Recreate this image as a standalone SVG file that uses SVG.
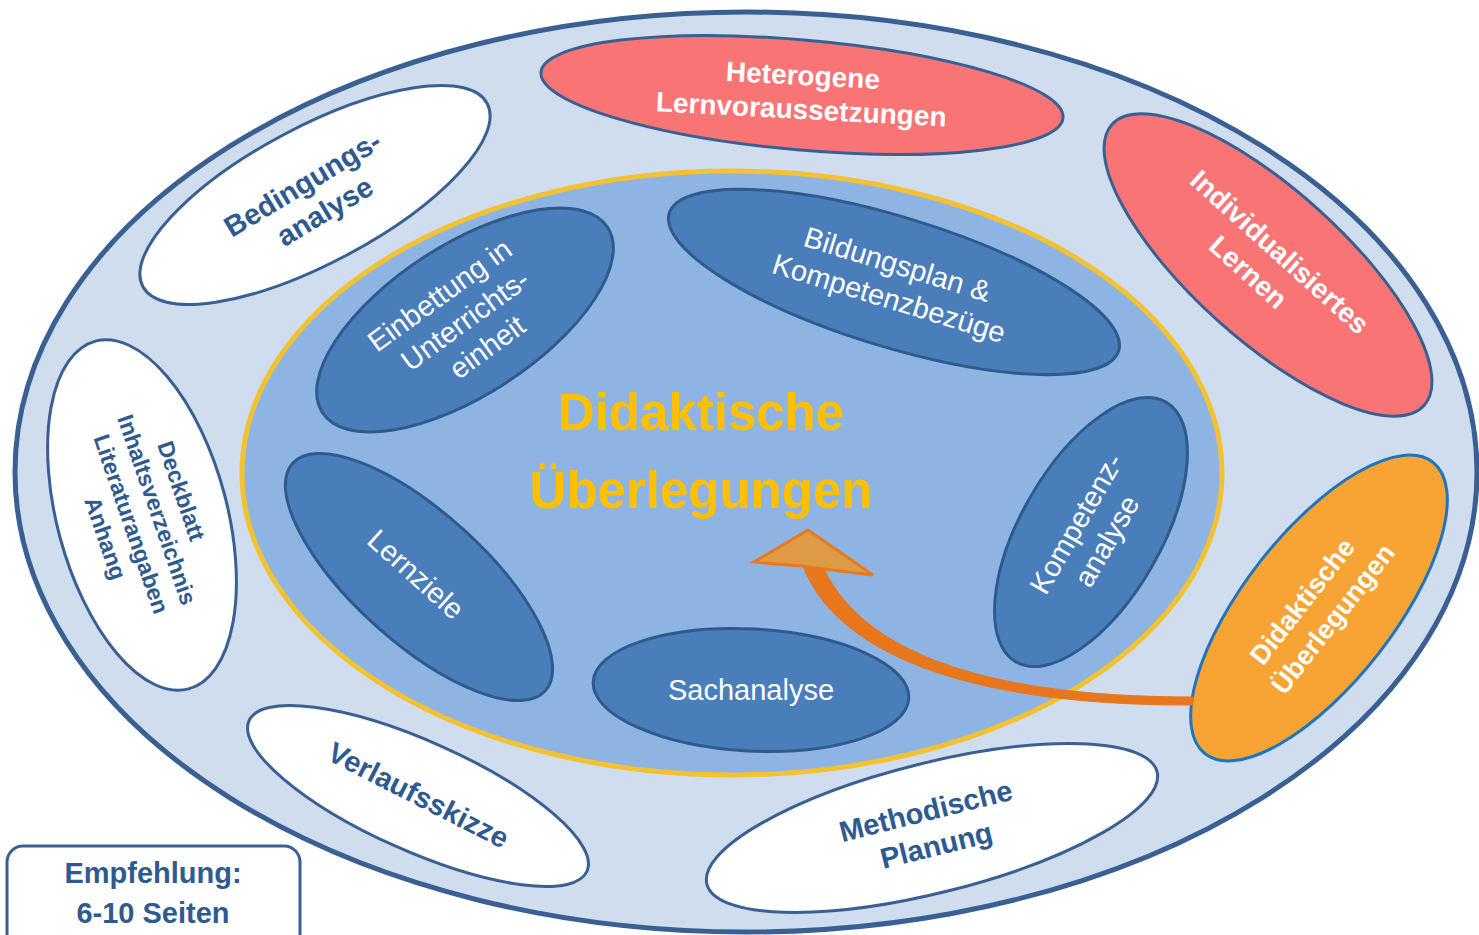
<svg xmlns="http://www.w3.org/2000/svg" width="1479" height="935" viewBox="0 0 1479 935">
<style>
.t{font-family:"Liberation Sans",Arial,sans-serif;text-anchor:middle}
.w{fill:#ffffff}
.b{font-weight:bold}
.d{fill:#2F5A8F}
.blue{fill:#4A7EBB;stroke:#2E5A8C;stroke-width:3}
.white{fill:#ffffff;stroke:#3A6093;stroke-width:3}
.red{fill:#F97575;stroke:#3A6093;stroke-width:3}
</style>
<rect width="1479" height="935" fill="#ffffff"/>
<g id="outer">
<ellipse cx="746" cy="472" rx="731" ry="460" fill="#D0DDEE" stroke="#3A6093" stroke-width="5"/>
</g>
<g id="inner">
<ellipse cx="732" cy="473" rx="490" ry="302" fill="#8DB4E2" stroke="#F2C232" stroke-width="5"/>
<text class="t b" fill="#FFC000" font-size="51" x="701" y="430">Didaktische</text>
<text class="t b" fill="#FFC000" font-size="51" x="701" y="508">Überlegungen</text>
</g>
<g id="einbettung" transform="translate(465,320) rotate(-33)">
<ellipse rx="170" ry="75" class="blue"/>
<g transform="rotate(-3)"><text class="t w" font-size="29" x="-6" y="-25">Einbettung in</text>
<text class="t w" font-size="29" x="0" y="10">Unterrichts-</text>
<text class="t w" font-size="29" x="2" y="45">einheit</text></g>
</g>
<g id="bildungsplan" transform="translate(894,282) rotate(17)">
<ellipse rx="235" ry="65" class="blue"/>
<text class="t w" font-size="29" x="-2" y="-8">Bildungsplan &amp;</text>
<text class="t w" font-size="29" x="0" y="27">Kompetenzbezüge</text>
</g>
<g id="kompetenzanalyse" transform="translate(1091,532) rotate(-60)">
<ellipse rx="150" ry="70" class="blue"/>
<text class="t w" font-size="29" x="0" y="-7">Kompetenz-</text>
<text class="t w" font-size="29" x="0" y="28">analyse</text>
</g>
<g id="sachanalyse" transform="translate(751,690) rotate(3)">
<ellipse rx="158" ry="61" class="blue"/>
<g transform="rotate(-3)"><text class="t w" font-size="29" x="0" y="10">Sachanalyse</text></g>
</g>
<g id="lernziele" transform="translate(419,577) rotate(42)">
<ellipse rx="170" ry="65" class="blue"/>
<text class="t w" font-size="29" x="-4" y="10">Lernziele</text>
</g>
<g id="bedingungsanalyse" transform="translate(315,195) rotate(-28)">
<ellipse rx="195" ry="68" class="white"/>
<g transform="rotate(-3)"><text class="t b d" font-size="29" x="-5" y="-6">Bedingungs-</text>
<text class="t b d" font-size="29" x="0" y="29">analyse</text></g>
</g>
<g id="deckblatt" transform="translate(142,515) rotate(75)">
<ellipse rx="180" ry="85" class="white"/>
<g transform="rotate(-4)"><text class="t b d" font-size="23" x="-10" y="-37">Deckblatt</text>
<text class="t b d" font-size="23" x="0" y="-8">Inhaltsverzeichnis</text>
<text class="t b d" font-size="23" x="5" y="21">Literaturangaben</text>
<text class="t b d" font-size="23" x="10" y="50">Anhang</text></g>
</g>
<g id="verlaufsskizze" transform="translate(418,796) rotate(24)">
<ellipse rx="185" ry="55" class="white"/>
<g transform="rotate(3)"><text class="t b d" font-size="29" x="0" y="9">Verlaufsskizze</text></g>
</g>
<g id="methodische" transform="translate(932,828) rotate(-14)">
<ellipse rx="232" ry="65" class="white"/>
<text class="t b d" font-size="29" x="-2" y="-8">Methodische</text>
<text class="t b d" font-size="29" x="0" y="28">Planung</text>
</g>
<g id="heterogene" transform="translate(802,95) rotate(5)">
<ellipse rx="262" ry="55" class="red"/>
<g transform="rotate(-2)"><text class="t b w" font-size="28" x="0" y="-10">Heterogene</text>
<text class="t b w" font-size="28" x="0" y="24">Lernvoraussetzungen</text></g>
</g>
<g id="individualisiertes" transform="translate(1268,265) rotate(42)">
<ellipse rx="210" ry="75" class="red"/>
<text class="t b w" font-size="28" x="0" y="-8">Individualisiertes</text>
<text class="t b w" font-size="28" x="-10" y="28">Lernen</text>
</g>
<g id="didaktische" transform="translate(1319,608) rotate(-52)">
<ellipse rx="185" ry="75" fill="#F8A435" stroke="#1F74BE" stroke-width="3"/>
<text class="t b w" font-size="27" x="-5" y="-8">Didaktische</text>
<text class="t b w" font-size="27" x="0" y="27">Überlegungen</text>
</g>
<g id="empfehlung">
<rect x="7" y="846" width="293" height="110" rx="16" fill="#ffffff" stroke="#3A6093" stroke-width="3"/>
<text class="t b d" font-size="29" x="153" y="883">Empfehlung:</text>
<text class="t b d" font-size="29" x="153" y="923">6-10 Seiten</text>
</g>
<g id="connectors">
<path d="M803 566 C835 650 960 706 1193 705 L1193 697 C975 697 862 648 824 569 Z" fill="#E8761C" stroke="#E8761C" stroke-width="1"/>
<path d="M808 530 L754 562 L802 566 L824 569 L873 575 Z" fill="#DE9A45" stroke="#E8791F" stroke-width="3" stroke-linejoin="miter"/>
</g>
</svg>
